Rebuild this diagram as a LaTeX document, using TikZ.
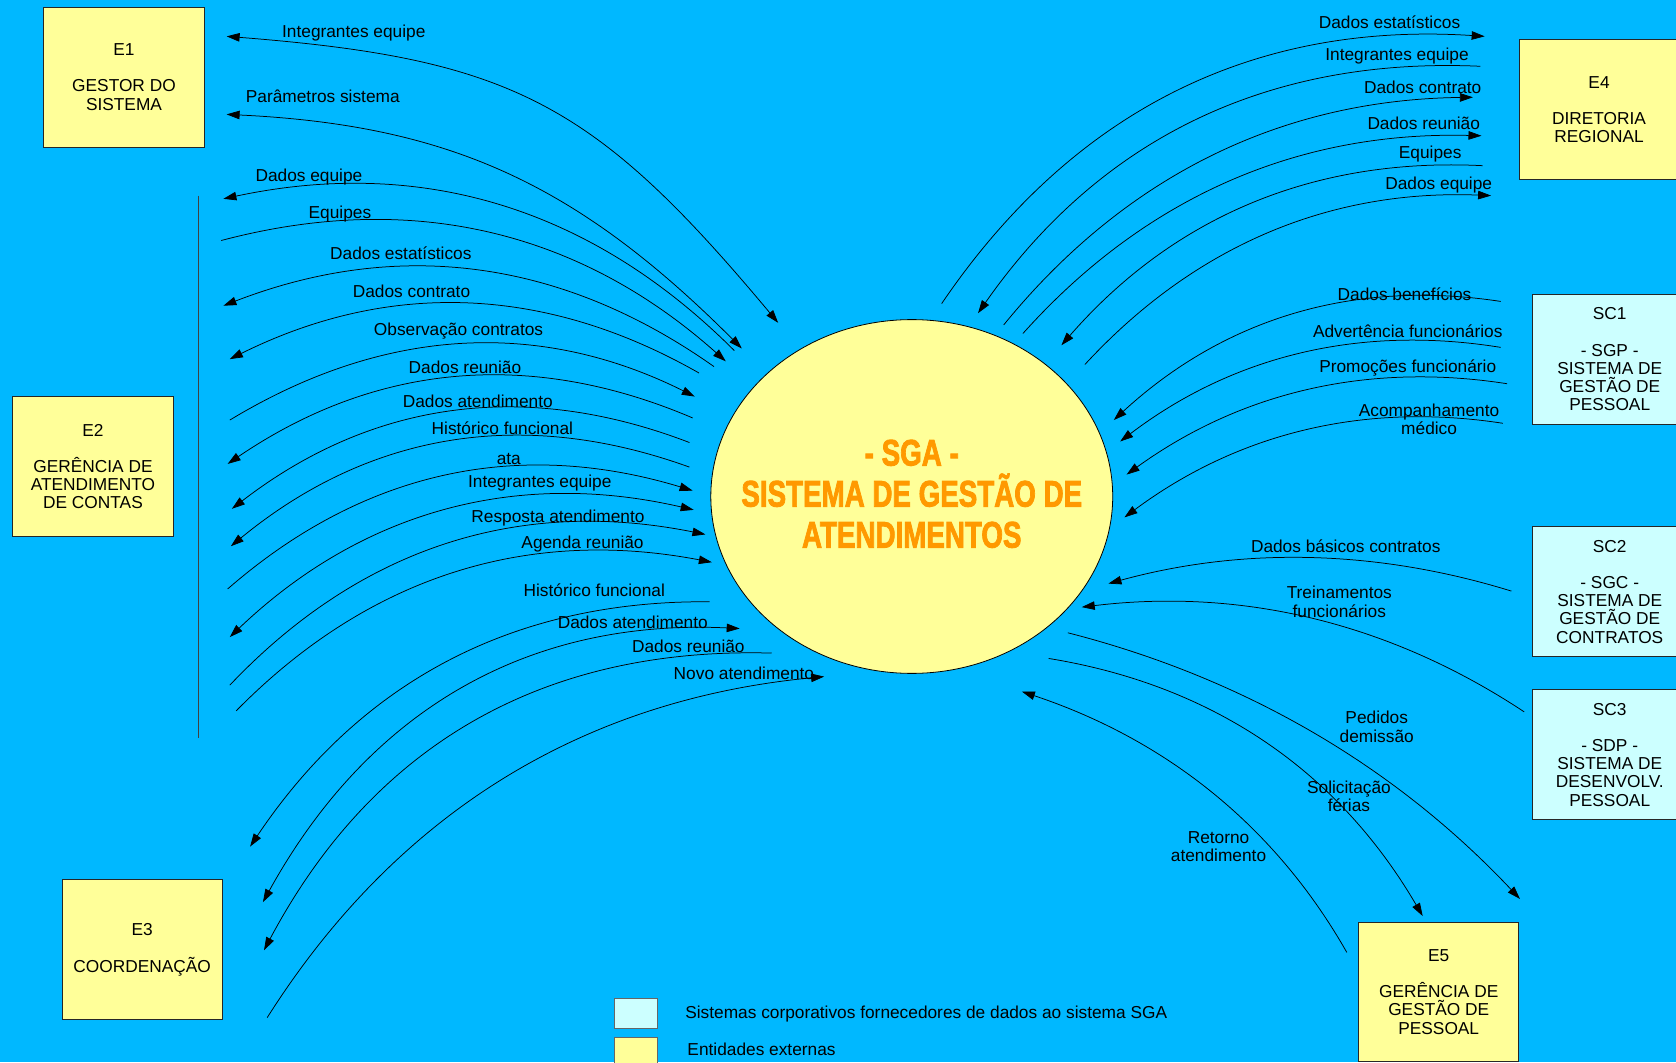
\documentclass[tikz,border=0pt]{standalone}
\usepackage{fontspec}
\setmainfont{Liberation Sans}
\newfontfamily\ttlfam{Liberation Sans}[BoldFeatures={FakeBold=2.5}]
\usepackage{graphicx}
\usetikzlibrary{calc,arrows.meta,shapes.geometric}
\definecolor{bgblue}{RGB}{0,184,255}
\definecolor{entyellow}{RGB}{255,255,153}
\definecolor{syscyan}{RGB}{204,255,255}
\definecolor{ttlorange}{RGB}{255,153,0}
\newcommand{\lblfont}{\fontsize{17.3}{18.2}\selectfont}
\newcommand{\ttlfont}{\ttlfam\fontsize{37}{41}\selectfont\bfseries}
\newcommand{\sqz}[1]{\scalebox{0.75}[1]{#1}}
% #1 name, #2 arrow option, #3 start, #4 point on curve (middle), #5 end
\newcommand{\dfdarc}[5]{%
  \coordinate (#1s) at (#3);
  \coordinate (#1m) at (#4);
  \coordinate (#1e) at (#5);
  \coordinate (#1c) at ($2*(#1m)-0.5*(#1s)-0.5*(#1e)$);
  \draw[flowline,#2] (#1s) .. controls ($(#1s)!2/3!(#1c)$) and ($(#1e)!2/3!(#1c)$) .. (#1e);
}
% #1 name, #2 arrow option, #3 start, #4 control 1, #5 control 2, #6 end
\newcommand{\dfdcurve}[6]{%
  \coordinate (#1s) at (#3);
  \coordinate (#1e) at (#6);
  \draw[flowline,#2] (#1s) .. controls (#4) and (#5) .. (#1e);
}
\begin{document}
\begin{tikzpicture}[x=1.0689pt,y=-1.0689pt,
  >={Triangle[length=13pt,width=8.5pt]},
  flowline/.style={draw=black,line width=0.75pt},
  entbox/.style={draw=black!85,line width=0.8pt,fill=entyellow,align=center,inner sep=0pt,
    minimum width=160.3pt,minimum height=140pt,font=\lblfont},
  sysbox/.style={entbox,fill=syscyan,minimum width=154pt,minimum height=130pt},
  lbl/.style={inner sep=0pt,align=center,font=\lblfont},
  legsq/.style={draw=black!60,line width=0.8pt,minimum width=42.8pt,minimum height=30pt,inner sep=0pt}]
\useasboundingbox (0,0) rectangle (1568,994);
\fill[bgblue] (0,0) rectangle (1568,994);
\clip (0,0) rectangle (1568,994);

% central process
\node[ellipse,draw=black,line width=0.8pt,fill=entyellow,minimum width=401.9pt,minimum height=353.8pt,inner sep=0pt] (sga) at (853,464.5) {};
\node[text=ttlorange,font=\ttlfont,align=center,inner sep=0pt] (title) at (853,462)
  {\sqz{- SGA -}\\\sqz{SISTEMA DE GESTÃO DE}\\\sqz{ATENDIMENTOS}};

% external entities
\node[entbox] (e1) at (116,72) {E1\\[18.2pt]GESTOR DO\\SISTEMA};
\node[entbox] (e2) at (87,436.5) {E2\\[18.2pt]GERÊNCIA DE\\ATENDIMENTO\\DE CONTAS};
\node[entbox] (e3) at (133,888.5) {E3\\[18.2pt]COORDENAÇÃO};
\node[entbox] (e4) at (1496,102.5) {E4\\[18.2pt]DIRETORIA\\REGIONAL};
\node[entbox,minimum height=139pt] (e5) at (1346,928) {E5\\[18.2pt]GERÊNCIA DE\\GESTÃO DE\\PESSOAL};
\node[sysbox] (sc1) at (1506,336) {SC1\\[18.2pt]- SGP -\\SISTEMA DE\\GESTÃO DE\\PESSOAL};
\node[sysbox] (sc2) at (1506,553.5) {SC2\\[18.2pt]- SGC -\\SISTEMA DE\\GESTÃO DE\\CONTRATOS};
\node[sysbox] (sc3) at (1506,706) {SC3\\[18.2pt]- SDP -\\SISTEMA DE\\DESENVOLV.\\PESSOAL};

% vertical bracket line near E2
\coordinate (vtop) at (186,183);
\coordinate (vbot) at (186,690);
\draw[black!75,line width=0.8pt] (vtop) -- (vbot);

% E1 flows
\dfdcurve{a1}{<->}{212,34}{479,55}{556,96}{728,302}
\dfdcurve{a2}{<->}{212,107}{420,117}{540,172}{694,326}
\node[lbl] (la1) at (331,31) {Integrantes equipe};
\node[lbl] (la2) at (302,90) {Parâmetros sistema};

% E2 flows
\dfdarc{b1}{<-}{209,186}{467,192}{687,328}
\dfdarc{b2}{->}{207,225}{458,218}{679,338}
\dfdarc{b3}{<-}{209,286}{446,253}{668,343}
\dfdarc{b4}{<-}{215,336}{436,284}{654,349}
\dfdarc{b5}{->}{215,393}{432,322}{650,371}
\dfdarc{b6}{<-}{213,434}{425,353}{648,391}
\dfdarc{b7}{<-}{217,476}{422,385}{645,414}
\dfdarc{b8}{<-}{216,511}{420,413}{645,437}
\dfdarc{b9}{->}{213,551}{417,445}{648,459}
\dfdarc{b10}{<->}{215,596}{416,478}{649,477}
\dfdarc{b11}{->}{215,641}{418,509}{660,500}
\dfdarc{b12}{->}{221,665}{425,536}{666,526}
\node[lbl] (lb1) at (289,166) {Dados equipe};
\node[lbl] (lb2) at (318,200) {Equipes};
\node[lbl] (lb3) at (375,237) {Dados estatísticos};
\node[lbl] (lb4) at (385,273) {Dados contrato};
\node[lbl] (lb5) at (429,310) {Observação contratos};
\node[lbl] (lb6) at (435,344) {Dados reunião};
\node[lbl] (lb7) at (447,375) {Dados atendimento};
\node[lbl] (lb8) at (470,401) {Histórico funcional};
\node[lbl] (lb9) at (476,429) {ata};
\node[lbl] (lb10) at (505,452) {Integrantes equipe};
\node[lbl] (lb11) at (522,485) {Resposta atendimento};
\node[lbl] (lb12) at (545,509) {Agenda reunião};

% E3 flows
\dfdarc{d1}{->}{664,563}{419,619}{234,792}
\dfdarc{d2}{<->}{692,588}{432,645}{246,844}
\dfdarc{d3}{->}{722,611}{442,676}{247,889}
\dfdarc{d4}{->}{250,952}{471,729}{771,633}
\node[lbl] (ld1) at (556,552) {Histórico funcional};
\node[lbl] (ld2) at (592,582) {Dados atendimento};
\node[lbl] (ld3) at (644,605) {Dados reunião};
\node[lbl] (ld4) at (696,630) {Novo atendimento};

% E4 flows
\dfdarc{f1}{->}{881,284}{1100,86}{1389,34}
\dfdarc{f2}{<-}{915,293}{1118,113}{1385,62}
\dfdarc{f3}{->}{939,304}{1134,146}{1378,91}
\dfdarc{f4}{->}{957,312}{1150,170}{1386,127}
\dfdarc{f5}{<-}{993,323}{1170,191}{1387,155}
\dfdarc{f6}{->}{1015,341}{1187,218}{1395,183}
\node[lbl] (lf1) at (1300,21) {Dados estatísticos};
\node[lbl] (lf2) at (1307,52) {Integrantes equipe};
\node[lbl] (lf3) at (1331,82) {Dados contrato};
\node[lbl] (lf4) at (1332,115) {Dados reunião};
\node[lbl] (lf5) at (1338,144) {Equipes};
\node[lbl] (lf6) at (1346,173) {Dados equipe};

% SC1 flows
\dfdarc{g1}{->}{1404,282}{1210,294}{1042,393}
\dfdarc{g2}{->}{1404,325}{1216,331}{1048,413}
\dfdarc{g3}{->}{1410,359}{1223,365}{1054,444}
\dfdarc{g4}{->}{1406,396}{1220,403}{1052,484}
\node[lbl] (lg1) at (1314,275) {Dados benefícios};
\node[lbl] (lg2) at (1317,310) {Advertência funcionários};
\node[lbl] (lg3) at (1317,344) {Promoções funcionário};
\node[lbl] (lg4) at (1337,392) {Acompanhamento\\médico};

% SC2 / SC3 flows
\dfdarc{h1}{->}{1414,553}{1225,522}{1037,546}
\dfdarc{h2}{->}{1426,666}{1228,579}{1012,568}
\node[lbl] (lh1) at (1259,511) {Dados básicos contratos};
\node[lbl] (lh2) at (1253,563) {Treinamentos\\funcionários};

% E5 flows
\dfdarc{k1}{->}{999,592}{1229,686}{1422,841}
\dfdarc{k2}{->}{981,616}{1184,695}{1331,857}
\dfdarc{k3}{->}{1260,891}{1134,742}{956,647}
\node[lbl] (lk1) at (1288,680) {Pedidos\\demissão};
\node[lbl] (lk2) at (1262,745) {Solicitação\\férias};
\node[lbl] (lk3) at (1140,792) {Retorno\\atendimento};

% legend
\node[legsq,fill=syscyan] (leg1) at (595,948) {};
\node[legsq,fill=entyellow] (leg2) at (595,985) {};
\node[lbl,anchor=west] (legt1) at (641,949) {Sistemas corporativos fornecedores de dados ao sistema SGA};
\node[lbl,anchor=west] (legt2) at (643,982) {Entidades externas};
\end{tikzpicture}
\end{document}
